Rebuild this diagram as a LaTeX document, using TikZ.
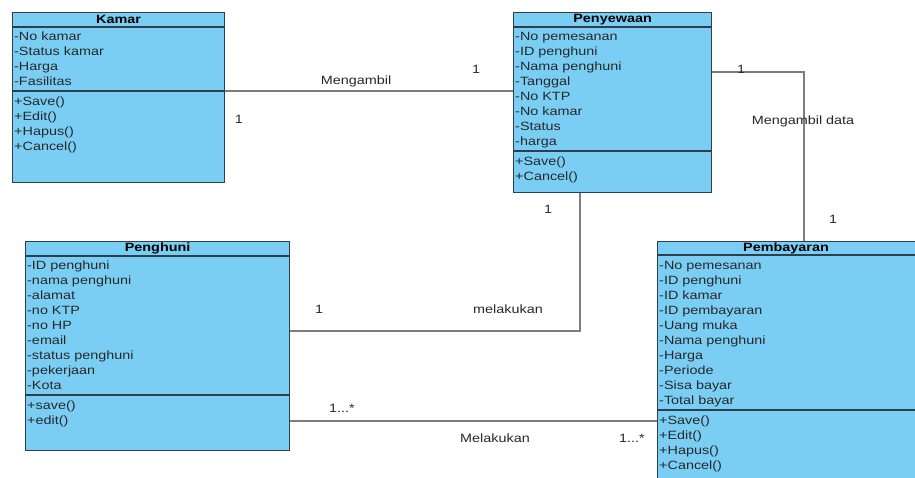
\documentclass[tikz,border=0pt]{standalone}
\usepackage{fontspec}
\setmainfont{Liberation Sans}[FakeStretch=1.2]
\usepackage{xcolor}
\usepackage{tikz}
\usetikzlibrary{calc}

\definecolor{clsfill}{RGB}{122,206,244}
\definecolor{clsline}{RGB}{45,62,76}
\definecolor{lnkgray}{RGB}{125,125,125}
\definecolor{txtgray}{RGB}{40,40,40}

\begin{document}
\begin{tikzpicture}[x=1pt, y=-1pt,
  font=\fontsize{12}{15}\selectfont,
  cls/.style={draw=clsline, fill=clsfill, line width=1.2pt, anchor=north west, inner sep=0pt},
  ttl/.style={font=\fontsize{12}{15}\selectfont\bfseries, inner sep=0pt},
  mbr/.style={anchor=north west, align=left, inner sep=0pt, text=txtgray},
  hdr/.style={draw=clsline, line width=2pt},
  sep/.style={draw=clsline, line width=1.2pt},
  lnk/.style={draw=lnkgray, line width=1.3pt},
  lbl/.style={text=txtgray, inner sep=0pt}
]
\useasboundingbox (0,0) rectangle (915,477);
\fill[white] (0,0) rectangle (915,477);
\clip (0,0) rectangle (915,477);

% Kamar
\node[cls, minimum width=212pt, minimum height=170pt] (kamar) at (12,12) {};
\node[ttl] (kamar-t) at ($(kamar.north)+(0,7.5)$) {Kamar};
\draw[hdr] ($(kamar.north west)+(0,15)$) -- ($(kamar.north east)+(0,15)$);
\node[mbr] (kamar-a) at ($(kamar.north west)+(2,20)$) {-No kamar\\-Status kamar\\-Harga\\-Fasilitas};
\draw[sep] ($(kamar.north west)+(0,79)$) -- ($(kamar.north east)+(0,79)$);
\node[mbr] (kamar-m) at ($(kamar.north west)+(2,84.5)$) {+Save()\\+Edit()\\+Hapus()\\+Cancel()};

% Penyewaan
\node[cls, minimum width=198pt, minimum height=180pt] (penyewaan) at (513,12) {};
\node[ttl] (penyewaan-t) at ($(penyewaan.north)+(0,7.5)$) {Penyewaan};
\draw[hdr] ($(penyewaan.north west)+(0,15)$) -- ($(penyewaan.north east)+(0,15)$);
\node[mbr] (penyewaan-a) at ($(penyewaan.north west)+(2,20)$) {-No pemesanan\\-ID penghuni\\-Nama penghuni\\-Tanggal\\-No KTP\\-No kamar\\-Status\\-harga};
\draw[sep] ($(penyewaan.north west)+(0,139)$) -- ($(penyewaan.north east)+(0,139)$);
\node[mbr] (penyewaan-m) at ($(penyewaan.north west)+(2,144.5)$) {+Save()\\+Cancel()};

% Penghuni
\node[cls, minimum width=264pt, minimum height=209pt] (penghuni) at (25,241) {};
\node[ttl] (penghuni-t) at ($(penghuni.north)+(0,7.5)$) {Penghuni};
\draw[hdr] ($(penghuni.north west)+(0,15)$) -- ($(penghuni.north east)+(0,15)$);
\node[mbr] (penghuni-a) at ($(penghuni.north west)+(2,20)$) {-ID penghuni\\-nama penghuni\\-alamat\\-no KTP\\-no HP\\-email\\-status penghuni\\-pekerjaan\\-Kota};
\draw[sep] ($(penghuni.north west)+(0,154)$) -- ($(penghuni.north east)+(0,154)$);
\node[mbr] (penghuni-m) at ($(penghuni.north west)+(2,159.5)$) {+save()\\+edit()};

% Pembayaran
\node[cls, minimum width=273pt, minimum height=259pt] (pembayaran) at (657,241) {};
\node[ttl] (pembayaran-t) at ($(pembayaran.north west)+(129,7.5)$) {Pembayaran};
\draw[hdr] ($(pembayaran.north west)+(0,14)$) -- ($(pembayaran.north east)+(0,14)$);
\node[mbr] (pembayaran-a) at ($(pembayaran.north west)+(2,20)$) {-No pemesanan\\-ID penghuni\\-ID kamar\\-ID pembayaran\\-Uang muka\\-Nama penghuni\\-Harga\\-Periode\\-Sisa bayar\\-Total bayar};
\draw[sep] ($(pembayaran.north west)+(0,169)$) -- ($(pembayaran.north east)+(0,169)$);
\node[mbr] (pembayaran-m) at ($(pembayaran.north west)+(2,174.5)$) {+Save()\\+Edit()\\+Hapus()\\+Cancel()};

% connectors
\coordinate (k1) at ($(kamar.north east)+(0,79)$);
\draw[lnk] (k1) -- (k1 -| penyewaan.west);
\coordinate (s1) at ($(penyewaan.north east)+(0,60)$);
\coordinate (b1) at ($(pembayaran.north west)+(147,0)$);
\draw[lnk] (s1) -| (b1);
\coordinate (s2) at ($(penyewaan.south west)+(67,0)$);
\coordinate (h1) at ($(penghuni.north east)+(0,90)$);
\draw[lnk] (s2) |- (h1);
\coordinate (h2) at ($(penghuni.north east)+(0,180)$);
\draw[lnk] (h2) -- (h2 -| pembayaran.west);

% labels
\node[lbl] (l-mengambil) at (356,81) {Mengambil};
\node[lbl] (l-k1a) at (476,69) {1};
\node[lbl] (l-k1b) at (239,119) {1};
\node[lbl] (l-data) at (803,121) {Mengambil data};
\node[lbl] (l-s1a) at (741,69) {1};
\node[lbl] (l-s1b) at (833,219) {1};
\node[lbl] (l-melakukan) at (508,309) {melakukan};
\node[lbl] (l-s2a) at (548,209) {1};
\node[lbl] (l-s2b) at (319,309) {1};
\node[lbl] (l-Melakukan) at (495,438) {Melakukan};
\node[lbl] (l-h2a) at (342,408) {1...*};
\node[lbl] (l-h2b) at (632,438) {1...*};
\end{tikzpicture}
\end{document}
